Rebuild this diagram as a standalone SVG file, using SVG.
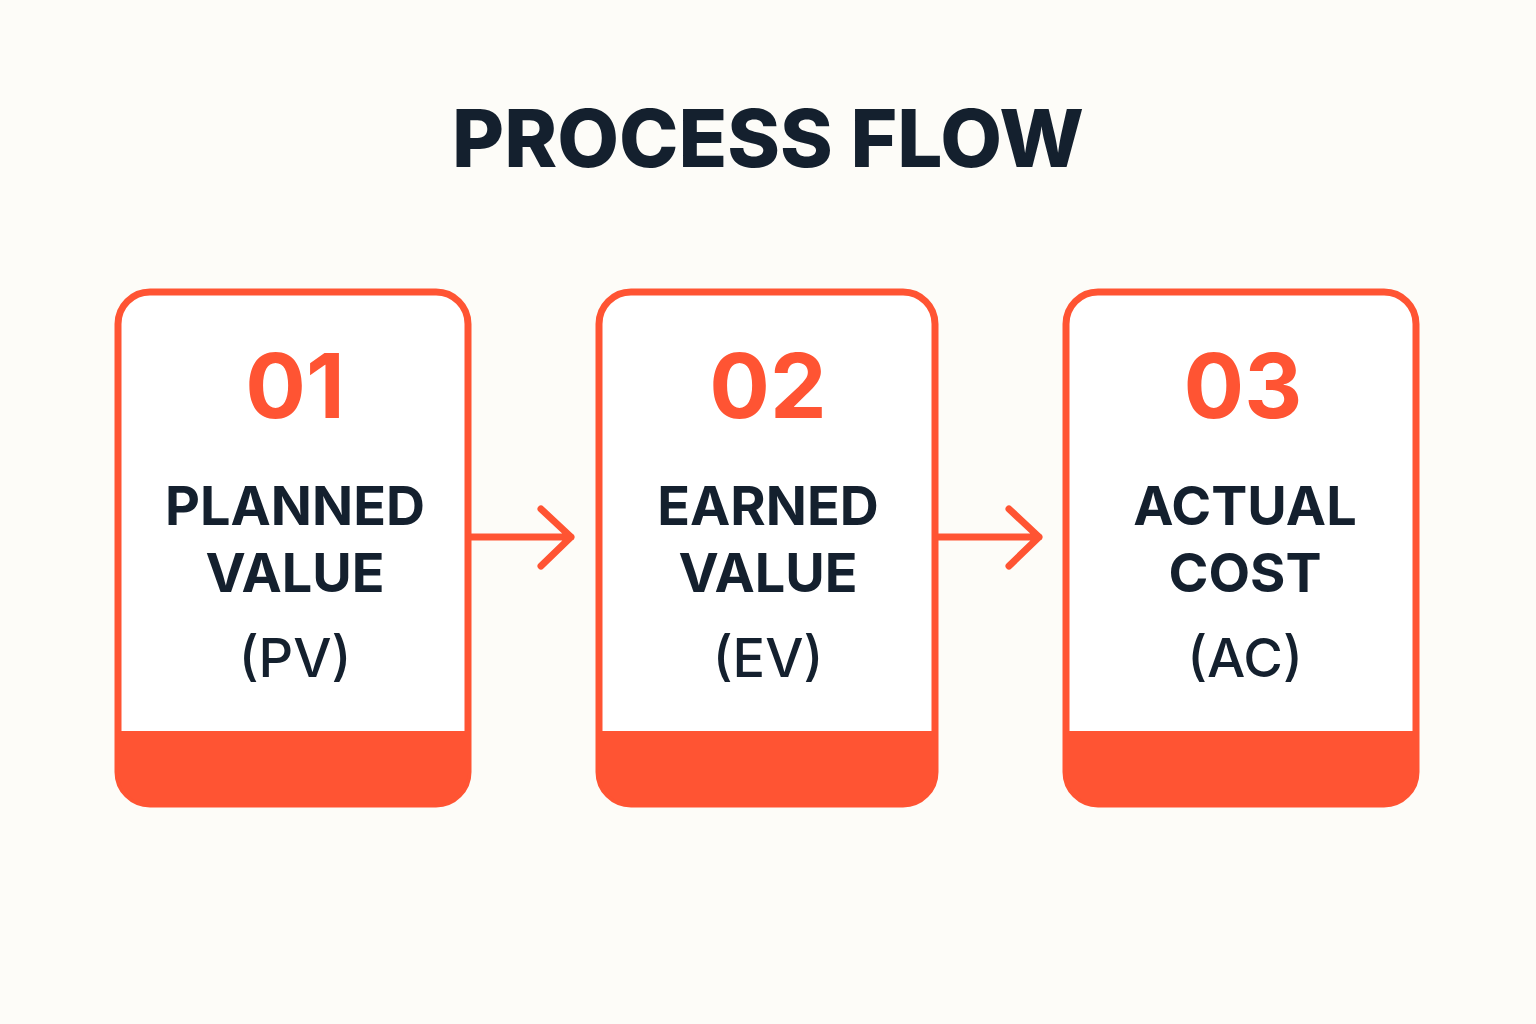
<svg xmlns="http://www.w3.org/2000/svg" width="1536" height="1024" viewBox="0 0 1536 1024">
<style>
.box{fill:#fff;stroke:#FF5433;stroke-width:7}
.band{fill:#FF5433}
.num{font-family:Inter,"Liberation Sans",sans-serif;font-weight:700;font-size:90px;fill:#FF5433;text-anchor:middle}
.lbl{font-family:Inter,"Liberation Sans",sans-serif;font-weight:700;font-size:54px;fill:#14202E;text-anchor:middle}
.abbr{font-family:Inter,"Liberation Sans",sans-serif;font-weight:500;font-size:54px;fill:#14202E;text-anchor:middle}
.conn{fill:none;stroke:#FF5433;stroke-width:7;stroke-linecap:round;stroke-linejoin:round}
</style>
<defs>
<clipPath id="c1"><rect x="118" y="292" width="350" height="512" rx="32"/></clipPath>
<clipPath id="c2"><rect x="599" y="292" width="336" height="512" rx="32"/></clipPath>
<clipPath id="c3"><rect x="1066" y="292" width="350" height="512" rx="32"/></clipPath>
</defs>
<rect width="1536" height="1024" fill="#FDFCF8"/>
<text x="768" y="167" font-family="Inter,'Liberation Sans',sans-serif" font-weight="800" font-size="80" fill="#14202E" text-anchor="middle">PROCESS FLOW</text>
<g id="connectors">
<path class="conn" d="M471 537H571M541 509L571 537L541 566"/>
<path class="conn" d="M938 537H1039M1009 509L1039 537L1009 566"/>
</g>
<g id="node1">
<rect class="box" x="118" y="292" width="350" height="512" rx="32"/>
<rect class="band" x="110" y="731" width="370" height="80" clip-path="url(#c1)"/>
<text class="num" x="295" y="418">01</text>
<text class="lbl" x="295" y="525">PLANNED</text>
<text class="lbl" x="295" y="592">VALUE</text>
<text class="abbr" x="295" y="677">(PV)</text>
</g>
<g id="node2">
<rect class="box" x="599" y="292" width="336" height="512" rx="32"/>
<rect class="band" x="590" y="731" width="360" height="80" clip-path="url(#c2)"/>
<text class="num" x="768" y="418">02</text>
<text class="lbl" x="768" y="525">EARNED</text>
<text class="lbl" x="768" y="592">VALUE</text>
<text class="abbr" x="768" y="677">(EV)</text>
</g>
<g id="node3">
<rect class="box" x="1066" y="292" width="350" height="512" rx="32"/>
<rect class="band" x="1060" y="731" width="370" height="80" clip-path="url(#c3)"/>
<text class="num" x="1243" y="418">03</text>
<text class="lbl" x="1245" y="525">ACTUAL</text>
<text class="lbl" x="1245" y="592">COST</text>
<text class="abbr" x="1245" y="677">(AC)</text>
</g>
</svg>
